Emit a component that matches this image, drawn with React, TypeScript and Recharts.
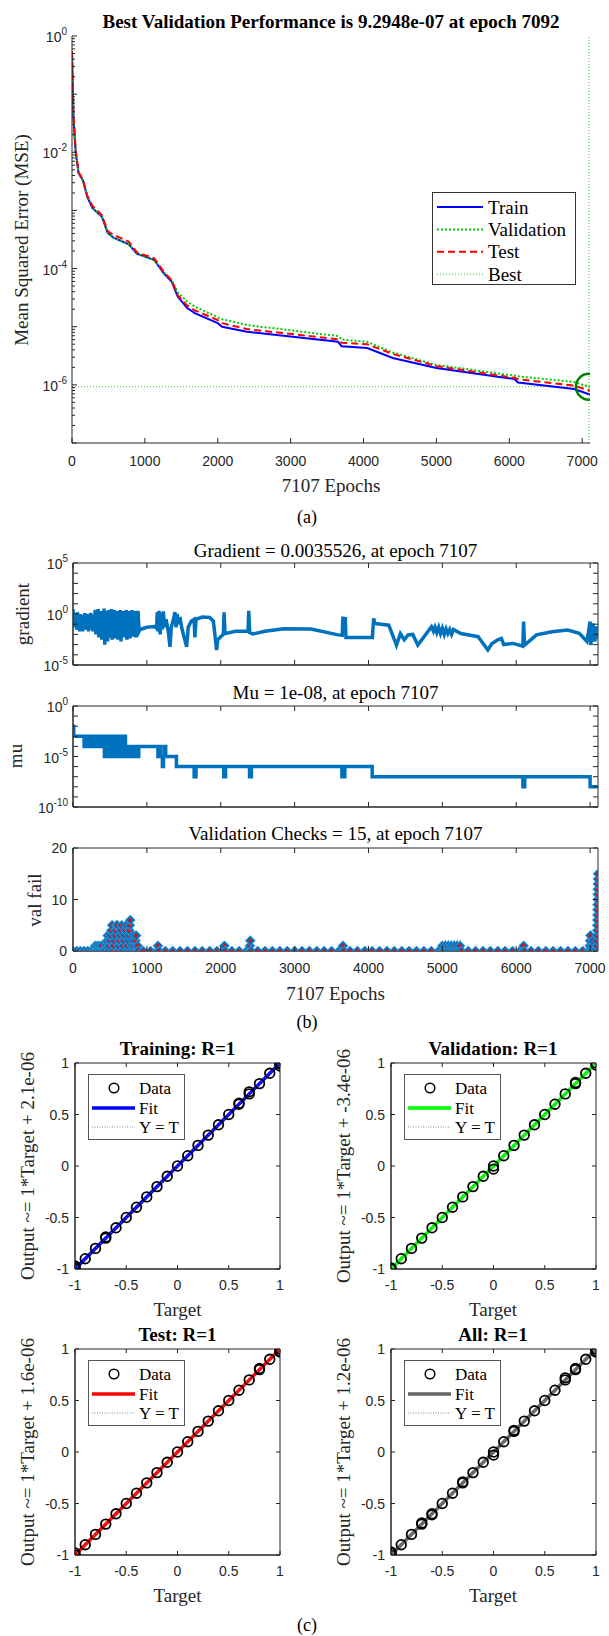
import React from "react";
import {
  ComposedChart,
  Line,
  Scatter,
  XAxis,
  YAxis,
  ReferenceLine,
  ReferenceArea,
} from "recharts";

const SERIF = '"Liberation Serif", "Times New Roman", serif';
const SANS = '"Liberation Sans", Arial, sans-serif';
const INK = "#262626";
const MATLAB_BLUE = "#0072bd";

// ---------- shared ----------
const totalEpochs = 7107;
const epochTicks = [0, 1000, 2000, 3000, 4000, 5000, 6000, 7000];

// ---------- (a) performance ----------
const bestEpoch = 7092;
const bestPerf = 9.2948e-7;
const mseEpochs = [
  0, 20, 50, 90, 150, 210, 280, 410, 490, 570, 780, 890, 1130, 1260, 1370,
  1450, 1580, 1690, 2000, 2060, 2400, 3650, 3700, 4050, 4400, 5000, 6070,
  6120, 6890, 7092, 7107,
];
const trainMse = [
  0.5, 0.04, 1.0e-2, 4.4e-3, 3.3e-3, 1.7e-3, 1.1e-3, 7.8e-4, 4.1e-4, 3.4e-4,
  2.6e-4, 1.8e-4, 1.4e-4, 8.3e-5, 5.9e-5, 3.3e-5, 2.1e-5, 1.7e-5, 1.15e-5,
  1.0e-5, 8.2e-6, 5.5e-6, 4.6e-6, 4.3e-6, 2.9e-6, 1.95e-6, 1.26e-6, 1.1e-6,
  8.5e-7, 6.9e-7, 6.7e-7,
];
const valMse = [
  0.45, 0.042, 1.05e-2, 4.3e-3, 3.2e-3, 1.75e-3, 1.1e-3, 7.9e-4, 4.2e-4,
  3.4e-4, 2.6e-4, 1.8e-4, 1.4e-4, 8.6e-5, 6.3e-5, 3.9e-5, 2.7e-5, 2.2e-5,
  1.45e-5, 1.35e-5, 1.07e-5, 6.9e-6, 6.0e-6, 5.5e-6, 3.6e-6, 2.2e-6, 1.44e-6,
  1.4e-6, 1.12e-6, 9.2948e-7, 9.6e-7,
];
const testMse = [
  0.55, 0.045, 1.1e-2, 4.6e-3, 3.4e-3, 1.8e-3, 1.2e-3, 8.3e-4, 4.4e-4, 3.8e-4,
  2.9e-4, 1.9e-4, 1.5e-4, 8.8e-5, 6.2e-5, 3.5e-5, 2.3e-5, 1.9e-5, 1.3e-5,
  1.15e-5, 9.1e-6, 6.1e-6, 5.3e-6, 5.0e-6, 3.4e-6, 2.1e-6, 1.32e-6, 1.25e-6,
  9.7e-7, 8.0e-7, 7.9e-7,
];

// ---------- (b) training state ----------
const gradientPts: [number, number][] = [
  [0, 3.0], [10, 0.05], [20, 1.2], [30, 0.1], [40, 0.6], [50, 0.03], [60, 1.5],
  [70, 0.08], [80, 0.5], [90, 0.02], [100, 1.0], [110, 0.06], [120, 0.4],
  [130, 0.02], [140, 0.8], [150, 0.05], [160, 1.2], [170, 0.03], [180, 0.6],
  [190, 0.1], [200, 1.0], [210, 0.02], [220, 0.7], [230, 0.05], [240, 1.3],
  [250, 0.03], [260, 0.5], [270, 0.02], [280, 0.9], [290, 0.04], [300, 2.5],
  [310, 0.01], [320, 1.5], [330, 0.02], [340, 3.0], [350, 0.005], [360, 1.2],
  [370, 0.01], [380, 2.0], [390, 0.003], [400, 1.5], [410, 0.01], [420, 3.5],
  [430, 0.001], [440, 2.0], [450, 0.005], [460, 1.0], [470, 0.002], [480, 2.5],
  [490, 0.01], [500, 1.5], [510, 0.005], [520, 3.0], [530, 0.003], [540, 1.2],
  [550, 0.008], [560, 2.5], [570, 0.004], [580, 1.5], [590, 0.01], [600, 2.0],
  [610, 0.003], [620, 1.0], [630, 0.006], [640, 2.5], [650, 0.002], [660, 1.5],
  [670, 0.01], [680, 2.0], [690, 0.005], [700, 1.2], [710, 0.008], [720, 2.5],
  [730, 0.003], [740, 1.5], [750, 0.01], [760, 2.0], [770, 0.004], [780, 1.2],
  [790, 0.01], [800, 2.5], [810, 0.006], [820, 1.5], [830, 0.01], [840, 2.0],
  [850, 0.005], [860, 1.5], [870, 0.02], [880, 2.0], [895, 0.02], [907, 0.03],
  [1000, 0.05], [1100, 0.06], [1132, 0.04], [1140, 1.5], [1150, 0.02],
  [1165, 2.0], [1180, 0.01], [1195, 1.2], [1210, 0.03], [1222, 1.8],
  [1240, 0.05], [1260, 0.3], [1290, 0.02], [1313, 0.0006], [1330, 0.05],
  [1360, 0.3], [1380, 1.5], [1395, 0.05], [1410, 1.0], [1425, 0.1],
  [1448, 0.5], [1470, 0.05], [1538, 0.0006], [1560, 0.05], [1600, 0.2],
  [1640, 0.3], [1650, 0.005], [1665, 0.3], [1750, 0.5], [1850, 0.45],
  [1900, 0.2], [1944, 0.0003], [1960, 0.003], [2000, 0.006], [2035, 0.01],
  [2045, 1.5], [2058, 0.012], [2200, 0.02], [2370, 0.02], [2379, 2.0],
  [2392, 0.015], [2432, 0.011], [2600, 0.02], [2853, 0.035], [3221, 0.033],
  [3590, 0.009], [3645, 0.008], [3653, 0.55], [3665, 0.008], [3685, 0.5],
  [3695, 0.005], [4053, 0.005], [4070, 0.37], [4085, 0.12], [4274, 0.08],
  [4379, 0.0009], [4432, 0.012], [4484, 0.003], [4537, 0.009], [4600, 0.01],
  [4668, 0.0009], [4853, 0.057], [4880, 0.02], [4900, 0.05], [4925, 0.015],
  [4950, 0.05], [4975, 0.012], [5000, 0.04], [5025, 0.01], [5050, 0.035],
  [5075, 0.012], [5100, 0.03], [5125, 0.01], [5150, 0.03], [5250, 0.012],
  [5484, 0.006], [5616, 0.0003], [5668, 0.0012], [5750, 0.003], [5800, 0.004],
  [5830, 0.001], [5958, 0.0013], [6089, 0.0007], [6100, 0.18], [6112, 0.0009],
  [6142, 0.0013], [6274, 0.009], [6484, 0.018], [6695, 0.027], [6853, 0.013],
  [6958, 0.002], [7000, 0.18], [7010, 0.0009], [7037, 0.12], [7063, 0.002],
  [7090, 0.06], [7107, 0.0035526],
];

const muPts: [number, number][] = [
  [0, 1e-2], [10, 1e-3], [150, 1e-4], [165, 1e-3], [180, 1e-4], [195, 1e-3],
  [210, 1e-4], [230, 1e-3], [245, 1e-4], [260, 1e-3], [280, 1e-4], [295, 1e-3],
  [310, 1e-4], [330, 1e-3], [345, 1e-4], [360, 1e-3], [380, 1e-4], [395, 1e-3],
  [410, 1e-4], [425, 1e-5], [440, 1e-4], [455, 1e-3], [470, 1e-4], [485, 1e-5],
  [500, 1e-4], [515, 1e-3], [530, 1e-4], [545, 1e-5], [560, 1e-4], [575, 1e-3],
  [590, 1e-4], [605, 1e-5], [620, 1e-4], [635, 1e-3], [650, 1e-4], [665, 1e-5],
  [680, 1e-4], [695, 1e-3], [710, 1e-4], [725, 1e-5], [740, 1e-4], [760, 1e-5],
  [780, 1e-4], [800, 1e-5], [820, 1e-4], [840, 1e-5], [860, 1e-4], [875, 1e-5],
  [890, 1e-4], [1150, 1e-5], [1170, 1e-4], [1190, 1e-5], [1210, 1e-6],
  [1225, 1e-5], [1240, 1e-4], [1255, 1e-5], [1400, 1e-6], [1640, 1e-7],
  [1665, 1e-6], [2040, 1e-7], [2065, 1e-6], [2390, 1e-7], [2415, 1e-6],
  [3640, 1e-7], [3680, 1e-6], [4050, 1e-7], [6090, 1e-8], [6115, 1e-7],
  [7000, 1e-8], [7107, 1e-8],
];

const valFailPts: [number, number][] = [
  [0, 0], [50, 0], [100, 0], [150, 0], [200, 0], [250, 0], [290, 0], [300, 1],
  [315, 0], [330, 1], [345, 0], [360, 1], [375, 0], [390, 1], [405, 0],
  [430, 0], [450, 1], [460, 2], [470, 3], [480, 0], [490, 1], [500, 2],
  [510, 3], [520, 4], [530, 5], [540, 0], [550, 1], [560, 2], [570, 3],
  [580, 4], [590, 5], [600, 5], [610, 0], [620, 1], [630, 2], [640, 3],
  [650, 4], [660, 5], [670, 0], [680, 1], [690, 2], [700, 3], [710, 4],
  [720, 5], [730, 0], [740, 1], [750, 2], [758, 3], [765, 4], [770, 5],
  [776, 6], [785, 0], [795, 1], [805, 2], [815, 3], [825, 0], [835, 1],
  [845, 2], [855, 3], [865, 0], [875, 1], [885, 0], [950, 0], [1050, 0],
  [1140, 0], [1150, 1], [1165, 0], [1250, 0], [1350, 0], [1450, 0], [1550, 0],
  [1650, 0], [1750, 0], [1850, 0], [1950, 0], [2040, 0], [2050, 1], [2060, 0],
  [2150, 0], [2250, 0], [2350, 0], [2390, 0], [2395, 1], [2400, 2], [2410, 0],
  [2500, 0], [2600, 0], [2700, 0], [2800, 0], [2900, 0], [3000, 0], [3100, 0],
  [3200, 0], [3300, 0], [3400, 0], [3500, 0], [3600, 0], [3645, 0], [3655, 1],
  [3665, 0], [3750, 0], [3850, 0], [3950, 0], [4050, 0], [4150, 0], [4250, 0],
  [4350, 0], [4450, 0], [4550, 0], [4650, 0], [4750, 0], [4850, 0], [4950, 0],
  [4990, 0], [5000, 1], [5020, 0], [5040, 1], [5060, 0], [5080, 1], [5100, 0],
  [5120, 1], [5140, 0], [5160, 1], [5180, 0], [5200, 1], [5220, 0], [5240, 1],
  [5260, 0], [5350, 0], [5450, 0], [5550, 0], [5650, 0], [5750, 0], [5850, 0],
  [5950, 0], [6050, 0], [6090, 0], [6100, 1], [6110, 0], [6200, 0], [6300, 0],
  [6400, 0], [6500, 0], [6600, 0], [6700, 0], [6800, 0], [6900, 0], [6980, 0],
  [6995, 1], [7000, 2], [7005, 3], [7015, 0], [7030, 1], [7040, 2], [7050, 0],
  [7092, 0], [7093, 1], [7094, 2], [7095, 3], [7096, 4], [7097, 5], [7098, 6],
  [7099, 7], [7100, 8], [7101, 9], [7102, 10], [7103, 11], [7104, 12],
  [7105, 13], [7106, 14], [7107, 15],
];

// ---------- (c) regression ----------
const regTicks = [-1, -0.5, 0, 0.5, 1];
const trainingPts: [number, number][] = [
  [-1, -1], [-1, -0.97], [-1, -0.985], [-0.9, -0.9], [-0.8, -0.8], [-0.7, -0.7],
  [-0.7, -0.69], [-0.6, -0.6], [-0.5, -0.5], [-0.4, -0.4], [-0.3, -0.3],
  [-0.2, -0.2], [-0.1, -0.1], [0, 0], [0.1, 0.1], [0.2, 0.2], [0.3, 0.3],
  [0.4, 0.4], [0.5, 0.5], [0.6, 0.6], [0.6, 0.61], [0.7, 0.7], [0.7, 0.72],
  [0.8, 0.8], [0.9, 0.9], [1, 1], [1, 0.99], [1, 0.97],
];
const validationPts: [number, number][] = [
  [-1, -1], [-1, -0.99], [-0.9, -0.9], [-0.8, -0.8], [-0.7, -0.7], [-0.6, -0.6],
  [-0.5, -0.5], [-0.4, -0.4], [-0.3, -0.3], [-0.2, -0.2], [-0.1, -0.1], [0, 0],
  [0, -0.03], [0.1, 0.1], [0.2, 0.2], [0.3, 0.3], [0.4, 0.4], [0.5, 0.5],
  [0.6, 0.6], [0.7, 0.7], [0.8, 0.8], [0.8, 0.81], [0.9, 0.9], [1, 1],
  [1, 0.98],
];
const testPts: [number, number][] = [
  [-1, -1], [-1, -0.98], [-0.9, -0.9], [-0.8, -0.8], [-0.7, -0.7], [-0.6, -0.6],
  [-0.5, -0.5], [-0.4, -0.4], [-0.3, -0.3], [-0.2, -0.2], [-0.1, -0.1], [0, 0],
  [0.1, 0.1], [0.2, 0.2], [0.3, 0.3], [0.4, 0.4], [0.5, 0.5], [0.6, 0.6],
  [0.7, 0.7], [0.8, 0.8], [0.8, 0.81], [0.9, 0.9], [1, 1], [1, 0.98],
  [1, 0.97],
];
const allPts: [number, number][] = [
  [-1, -1], [-1, -0.98], [-1, -0.97], [-0.9, -0.9], [-0.8, -0.8], [-0.7, -0.7],
  [-0.7, -0.69], [-0.6, -0.6], [-0.6, -0.61], [-0.5, -0.5], [-0.4, -0.4],
  [-0.3, -0.3], [-0.3, -0.29], [-0.2, -0.2], [-0.1, -0.1], [0, 0], [0, -0.03],
  [0.1, 0.1], [0.2, 0.2], [0.2, 0.21], [0.3, 0.3], [0.4, 0.4], [0.5, 0.5],
  [0.6, 0.6], [0.7, 0.7], [0.7, 0.72], [0.8, 0.8], [0.8, 0.81], [0.9, 0.9],
  [1, 1], [1, 0.98], [1, 0.97],
];
const fitOffsets = [2.1e-6, -3.4e-6, 1.6e-6, 1.2e-6];
const fitSlope = 1;

// ---------- helpers ----------
function Label({ x, y, size = 19, bold = false, rotate = false, color = "#000", family = SERIF, children }: any) {
  return (
    <div
      style={{
        position: "absolute",
        left: x,
        top: y,
        transform: `translate(-50%, -50%)${rotate ? " rotate(-90deg)" : ""}`,
        fontFamily: family,
        fontSize: size,
        fontWeight: bold ? 700 : 400,
        color,
        whiteSpace: "nowrap",
        lineHeight: 1,
      }}
    >
      {children}
    </div>
  );
}

function PowLabel({ x, y, exp }: any) {
  return (
    <text x={x} y={y} textAnchor="end" dominantBaseline="central" fontFamily={SANS} fontSize={14} fill={INK}>
      10
      <tspan dy={-6} fontSize={10}>
        {exp}
      </tspan>
    </text>
  );
}

// left (and optionally right) ticks on a log axis
function LogTick({ x = 0, y = 0, payload, labels = [], plotW = 0 }: any) {
  const v = payload ? payload.value : 1;
  const lg = Math.log10(v);
  const e = Math.round(lg);
  const major = Math.abs(lg - e) < 1e-6;
  const len = major ? 5 : 3;
  return (
    <g>
      <line x1={x} x2={x + len} y1={y} y2={y} stroke={INK} />
      {plotW > 0 && <line x1={x + plotW} x2={x + plotW - len} y1={y} y2={y} stroke={INK} />}
      {major && labels.includes(e) && <PowLabel x={x - 5} y={y + 1} exp={e} />}
    </g>
  );
}

function LinYTick({ x = 0, y = 0, payload, labels = true, plotW = 0, len = 5 }: any) {
  return (
    <g>
      <line x1={x} x2={x + len} y1={y} y2={y} stroke={INK} />
      {plotW > 0 && <line x1={x + plotW} x2={x + plotW - len} y1={y} y2={y} stroke={INK} />}
      {labels && (
        <text x={x - 6} y={y} textAnchor="end" dominantBaseline="central" fontFamily={SANS} fontSize={14} fill={INK}>
          {String(payload.value)}
        </text>
      )}
    </g>
  );
}

function XTick({ x = 0, y = 0, payload, labels = true, plotH = 0, len = 5, dy = 18 }: any) {
  return (
    <g>
      <line x1={x} x2={x} y1={y} y2={y - len} stroke={INK} />
      {plotH > 0 && <line x1={x} x2={x} y1={y - plotH} y2={y - plotH + len} stroke={INK} />}
      {labels && (
        <text x={x} y={y + dy} textAnchor="middle" dominantBaseline="central" fontFamily={SANS} fontSize={14} fill={INK}>
          {String(payload.value)}
        </text>
      )}
    </g>
  );
}

const decadeTicks = (hi: number, lo: number) => {
  const out: number[] = [];
  for (let d = hi; d >= lo; d--) out.push(10 ** d);
  return out;
};
const minorTicks = (hi: number, lo: number) => {
  const out: number[] = [];
  for (let d = hi - 1; d >= lo; d--) for (let m = 2; m <= 9; m++) out.push(m * 10 ** d);
  return out;
};

// ---------- (a) ----------
const A = { left: 72, right: 590, top: 36, bottom: 443 };

function PerformancePanel() {
  const rows = (vals: number[]) => mseEpochs.map((epoch, i) => ({ epoch, mse: vals[i] }));
  const cx = (A.left + A.right) / 2;
  const legendRows = [
    { name: "Train", stroke: "#0000ff", dash: undefined, w: 2 },
    { name: "Validation", stroke: "#00cc00", dash: "2 2", w: 2 },
    { name: "Test", stroke: "#ff0000", dash: "7 4", w: 2 },
    { name: "Best", stroke: "#3cc43c", dash: "1 2", w: 1 },
  ];
  return (
    <>
      <Label x={cx} y={21} bold>
        Best Validation Performance is 9.2948e-07 at epoch 7092
      </Label>
      <div style={{ position: "absolute", left: 0, top: 0 }}>
        <ComposedChart
          width={609}
          height={A.bottom + 37}
          margin={{ top: A.top, right: 609 - A.right, left: 0, bottom: 0 }}
        >
          <XAxis
            type="number"
            dataKey="epoch"
            domain={[0, totalEpochs]}
            allowDataOverflow
            ticks={epochTicks}
            interval={0}
            height={37}
            tickSize={0}
            tickMargin={0}
            tickLine={false}
            axisLine={{ stroke: INK }}
            tick={(p: any) => <XTick {...p} />}
          />
          <YAxis
            type="number"
            dataKey="mse"
            scale="log"
            domain={[1e-7, 1]}
            allowDataOverflow
            ticks={[...decadeTicks(0, -7), ...minorTicks(0, -7)]}
            interval={0}
            width={A.left}
            tickSize={0}
            tickMargin={0}
            tickLine={false}
            axisLine={{ stroke: INK }}
            tick={(p: any) => <LogTick {...p} labels={[0, -2, -4, -6]} />}
          />
          <ReferenceLine y={bestPerf} stroke="#3cc43c" strokeWidth={1} strokeDasharray="1 2" />
          <ReferenceLine x={bestEpoch} stroke="#3cc43c" strokeWidth={1} strokeDasharray="1 2" />
          <Line data={rows(trainMse)} dataKey="mse" stroke="#0000ff" strokeWidth={2} dot={false} isAnimationActive={false} />
          <Line data={rows(valMse)} dataKey="mse" stroke="#00cc00" strokeWidth={2} strokeDasharray="2 2" dot={false} isAnimationActive={false} />
          <Line data={rows(testMse)} dataKey="mse" stroke="#ff0000" strokeWidth={2} strokeDasharray="7 4" dot={false} isAnimationActive={false} />
          <Scatter
            data={[{ epoch: bestEpoch, mse: bestPerf }]}
            dataKey="mse"
            isAnimationActive={false}
            shape={(p: any) => <circle cx={p.cx} cy={p.cy} r={13} fill="none" stroke="#008000" strokeWidth={2.5} />}
          />
        </ComposedChart>
      </div>
      <svg width={144} height={93} style={{ position: "absolute", left: 432, top: 192 }}>
        <rect x={0.5} y={0.5} width={143} height={92} fill="#fff" stroke="#333" />
        {legendRows.map((r, i) => (
          <g key={r.name}>
            <line x1={5} x2={51} y1={15 + i * 22.4} y2={15 + i * 22.4} stroke={r.stroke} strokeWidth={r.w} strokeDasharray={r.dash} />
            <text x={56} y={15 + i * 22.4} dominantBaseline="central" fontFamily={SERIF} fontSize={19} fill="#000">
              {r.name}
            </text>
          </g>
        ))}
      </svg>
      <Label x={21} y={(A.top + A.bottom) / 2} rotate color={INK}>
        Mean Squared Error (MSE)
      </Label>
      <Label x={cx} y={485} color={INK}>
        7107 Epochs
      </Label>
      <Label x={307} y={517} size={18}>
        (a)
      </Label>
    </>
  );
}

// ---------- (b) ----------
const B = { left: 73, right: 598 };

function StatePlot({ top, bottom, xLabels = false, children }: any) {
  const plotH = bottom - top;
  return (
    <div style={{ position: "absolute", left: 0, top: top - 10 }}>
      <ComposedChart
        width={609}
        height={10 + plotH + 30}
        margin={{ top: 10, right: 609 - B.right, left: 0, bottom: 0 }}
      >
        <XAxis
          type="number"
          dataKey="epoch"
          domain={[0, totalEpochs]}
          allowDataOverflow
          ticks={epochTicks}
          interval={0}
          height={30}
          tickSize={0}
          tickMargin={0}
          tickLine={false}
          axisLine={{ stroke: INK }}
          tick={(p: any) => <XTick {...p} labels={xLabels} plotH={plotH} len={5} dy={17} />}
        />
        {children}
      </ComposedChart>
    </div>
  );
}

function TrainStatePanel() {
  const plotW = B.right - B.left;
  const cx = (B.left + B.right) / 2;
  const toRows = (pts: [number, number][]) => pts.map(([epoch, value]) => ({ epoch, value }));
  const ValDot = (p: any) => {
    const { cx: x, cy: y } = p;
    if (x == null || y == null) return <g key={p.key} />;
    return (
      <g key={p.key}>
        <path d={`M${x},${y - 5}L${x + 5},${y}L${x},${y + 5}L${x - 5},${y}Z`} fill={MATLAB_BLUE} stroke="#4a9fd8" strokeWidth={0.8} />
        <circle cx={x} cy={y} r={1.8} fill="#ff0000" />
      </g>
    );
  };
  return (
    <>
      <Label x={cx} y={550} color="#000">
        Gradient = 0.0035526, at epoch 7107
      </Label>
      <StatePlot top={563} bottom={665}>
        <YAxis
          type="number"
          dataKey="value"
          scale="log"
          domain={[1e-5, 1e5]}
          allowDataOverflow
          ticks={decadeTicks(5, -5)}
          interval={0}
          width={B.left}
          tickSize={0}
          tickMargin={0}
          tickLine={false}
          axisLine={{ stroke: INK }}
          tick={(p: any) => <LogTick {...p} labels={[5, 0, -5]} plotW={plotW} />}
        />
        <ReferenceArea x1={0} x2={totalEpochs} y1={1e-5} y2={1e5} fill="none" stroke={INK} strokeWidth={1} />
        <Line data={toRows(gradientPts)} dataKey="value" stroke={MATLAB_BLUE} strokeWidth={3.5} dot={false} isAnimationActive={false} />
      </StatePlot>

      <Label x={cx} y={692} color="#000">
        Mu = 1e-08, at epoch 7107
      </Label>
      <StatePlot top={706} bottom={807}>
        <YAxis
          type="number"
          dataKey="value"
          scale="log"
          domain={[1e-10, 1]}
          allowDataOverflow
          ticks={decadeTicks(0, -10)}
          interval={0}
          width={B.left}
          tickSize={0}
          tickMargin={0}
          tickLine={false}
          axisLine={{ stroke: INK }}
          tick={(p: any) => <LogTick {...p} labels={[0, -5, -10]} plotW={plotW} />}
        />
        <ReferenceArea x1={0} x2={totalEpochs} y1={1e-10} y2={1} fill="none" stroke={INK} strokeWidth={1} />
        <Line data={toRows(muPts)} type="stepAfter" dataKey="value" stroke={MATLAB_BLUE} strokeWidth={3.5} dot={false} isAnimationActive={false} />
      </StatePlot>

      <Label x={cx} y={833} color="#000">
        Validation Checks = 15, at epoch 7107
      </Label>
      <StatePlot top={848} bottom={951} xLabels>
        <YAxis
          type="number"
          dataKey="value"
          domain={[0, 20]}
          allowDataOverflow
          ticks={[0, 10, 20]}
          interval={0}
          width={B.left}
          tickSize={0}
          tickMargin={0}
          tickLine={false}
          axisLine={{ stroke: INK }}
          tick={(p: any) => <LinYTick {...p} plotW={plotW} />}
        />
        <ReferenceArea x1={0} x2={totalEpochs} y1={0} y2={20} fill="none" stroke={INK} strokeWidth={1} />
        <Line
          data={toRows(valFailPts)}
          dataKey="value"
          stroke={MATLAB_BLUE}
          strokeWidth={3.5}
          dot={ValDot}
          isAnimationActive={false}
        />
      </StatePlot>

      <Label x={22} y={614} rotate color={INK}>
        gradient
      </Label>
      <Label x={15} y={756} rotate color={INK}>
        mu
      </Label>
      <Label x={34} y={900} rotate color={INK}>
        val fail
      </Label>
      <Label x={cx} y={993} color={INK}>
        7107 Epochs
      </Label>
      <Label x={307} y={1022} size={18}>
        (b)
      </Label>
    </>
  );
}

// ---------- (c) ----------
const C_W = 205;
const C_H = 206;

function RegressionPlot({ left, top, title, pts, offset, color }: any) {
  const rows = pts.map(([t, o]: [number, number]) => ({ t, o }));
  const fitRows = [-1, 1].map((t) => ({ t, o: fitSlope * t + offset }));
  const identityRows = [-1, 1].map((t) => ({ t, o: t }));
  const offsetText = offset.toExponential(1).replace(/e([+-])(\d)$/, "e$10$2");
  const circle = (p: any) =>
    p.cx == null ? <g /> : <circle cx={p.cx} cy={p.cy} r={4.8} fill="none" stroke="#000" strokeWidth={1.8} />;
  return (
    <>
      <Label x={left + C_W / 2} y={top - 15} bold>
        {title}
      </Label>
      <div style={{ position: "absolute", left: left - 45, top: top - 10 }}>
        <ComposedChart width={45 + C_W + 10} height={10 + C_H + 30} margin={{ top: 10, right: 10, left: 0, bottom: 0 }}>
          <XAxis
            type="number"
            dataKey="t"
            domain={[-1, 1]}
            allowDataOverflow
            ticks={regTicks}
            interval={0}
            height={30}
            tickSize={0}
            tickMargin={0}
            tickLine={false}
            axisLine={{ stroke: INK }}
            tick={(p: any) => <XTick {...p} plotH={C_H} len={4} dy={16} />}
          />
          <YAxis
            type="number"
            dataKey="o"
            domain={[-1, 1]}
            allowDataOverflow
            ticks={regTicks}
            interval={0}
            width={45}
            tickSize={0}
            tickMargin={0}
            tickLine={false}
            axisLine={{ stroke: INK }}
            tick={(p: any) => <LinYTick {...p} plotW={C_W} len={4} />}
          />
          <ReferenceArea x1={-1} x2={1} y1={-1} y2={1} fill="none" stroke={INK} strokeWidth={1} />
          <Line data={fitRows} dataKey="o" stroke={color} strokeWidth={3.5} dot={false} isAnimationActive={false} />
          <Line data={identityRows} dataKey="o" stroke="#888" strokeWidth={1} strokeDasharray="1 2" dot={false} isAnimationActive={false} />
          <Scatter data={rows} dataKey="o" shape={circle} isAnimationActive={false} />
        </ComposedChart>
      </div>
      <svg width={97} height={66} style={{ position: "absolute", left: left + 13, top: top + 11 }}>
        <rect x={0.5} y={0.5} width={96} height={65} fill="#fff" stroke="#555" />
        <circle cx={26} cy={14} r={4.8} fill="none" stroke="#000" strokeWidth={1.5} />
        <text x={51} y={14} dominantBaseline="central" fontFamily={SERIF} fontSize={17} fill="#000">
          Data
        </text>
        <line x1={4} x2={47} y1={34} y2={34} stroke={color} strokeWidth={3.5} />
        <text x={51} y={34} dominantBaseline="central" fontFamily={SERIF} fontSize={17} fill="#000">
          Fit
        </text>
        <line x1={4} x2={47} y1={53} y2={53} stroke="#888" strokeWidth={1} strokeDasharray="1 1.5" />
        <text x={51} y={53} dominantBaseline="central" fontFamily={SERIF} fontSize={17} fill="#000">
          Y = T
        </text>
      </svg>
      <Label x={left - 48} y={top + C_H / 2} rotate color={INK}>
        {`Output ~= 1*Target + ${offsetText}`}
      </Label>
      <Label x={left + C_W / 2} y={top + C_H + 40} color={INK}>
        Target
      </Label>
    </>
  );
}

function RegressionPanel() {
  return (
    <>
      <RegressionPlot left={75} top={1062.7} title="Training: R=1" pts={trainingPts} offset={fitOffsets[0]} color="#0000ff" />
      <RegressionPlot left={390.5} top={1062.7} title="Validation: R=1" pts={validationPts} offset={fitOffsets[1]} color="#00ff00" />
      <RegressionPlot left={75} top={1348.5} title="Test: R=1" pts={testPts} offset={fitOffsets[2]} color="#ff0000" />
      <RegressionPlot left={390.5} top={1348.5} title="All: R=1" pts={allPts} offset={fitOffsets[3]} color="#666666" />
      <Label x={307} y={1625} size={18}>
        (c)
      </Label>
    </>
  );
}

export default function App() {
  return (
    <div
      style={{
        position: "absolute",
        left: 0,
        top: 0,
        width: 609,
        height: 1636,
        background: "#fff",
        overflow: "hidden",
      }}
    >
      <PerformancePanel />
      <TrainStatePanel />
      <RegressionPanel />
    </div>
  );
}
